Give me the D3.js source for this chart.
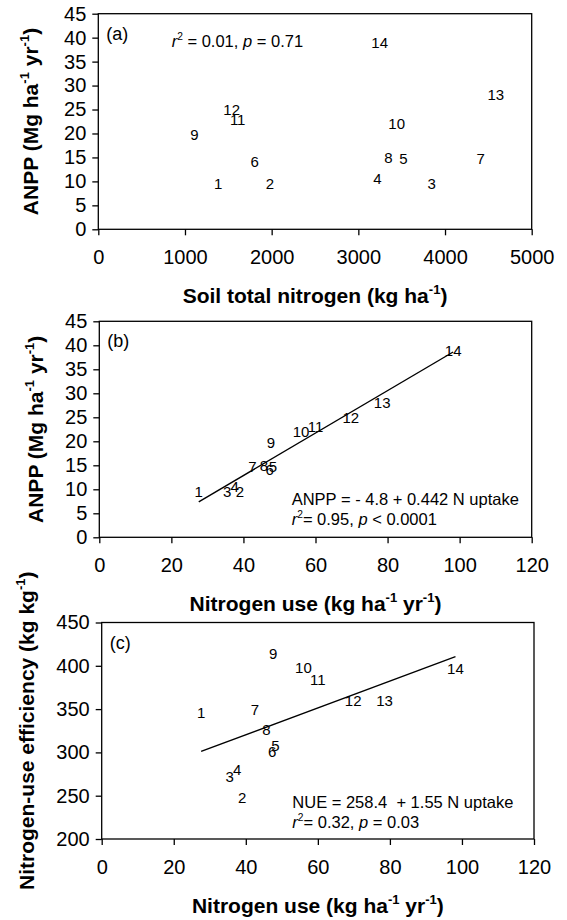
<!DOCTYPE html>
<html>
<head>
<meta charset="utf-8">
<script src="https://cdn.jsdelivr.net/npm/d3@7"></script>
<style>
  html, body { margin: 0; padding: 0; background: #fff; }
  svg { display: block; font-family: "Liberation Sans", Arial, sans-serif; }
  svg text { white-space: pre; }
</style>
</head>
<body>
<div id="chart"></div>
<script>
// ---------------- data ----------------
const sites = ["1","2","3","4","5","6","7","8","9","10","11","12","13","14"];
const soilN = [1384, 1981, 3846, 3219, 3519, 1804, 4412, 3346, 1108, 3442, 1608, 1539, 4585, 3246];
const anpp  = [9.6, 9.6, 9.5, 10.6, 14.8, 14.1, 14.8, 14.9, 19.7, 22.1, 23.0, 25.0, 28.1, 39.0];
const nUse  = [27.6, 39.0, 35.5, 37.6, 48.2, 47.3, 42.5, 45.7, 47.6, 56.0, 60.0, 69.8, 78.5, 98.2];
const nue   = [346, 248, 272, 280, 308, 301, 350, 326, 414, 398, 384, 360, 360, 397];

const soilTicks = [0, 1000, 2000, 3000, 4000, 5000];
const useTicks  = [0, 20, 40, 60, 80, 100, 120];
const anppTicks = [0, 5, 10, 15, 20, 25, 30, 35, 40, 45];
const nueTicks  = [200, 250, 300, 350, 400, 450];

const fitB = { intercept: -4.8, slope: 0.442 };
const fitC = { intercept: 258.4, slope: 1.55 };

// ---------------- drawing ----------------
const W = 567, H = 920;
const svg = d3.select("#chart").append("svg").attr("width", W).attr("height", H);

function rich(sel, parts, fs) {
  let shifted = false;
  parts.forEach(p => {
    const t = sel.append("tspan").text(p.t);
    if (p.sup) {
      t.attr("font-size", (fs * 0.62) + "px").attr("dy", -fs * 0.42);
      shifted = true;
    } else {
      if (shifted) { t.attr("dy", fs * 0.42); shifted = false; }
    }
    if (p.i) t.attr("font-style", "italic");
  });
  return sel;
}

function panel(cfg) {
  const g = svg.append("g");
  const x = d3.scaleLinear().domain(cfg.xDomain).range([cfg.left, cfg.right]);
  const y = d3.scaleLinear().domain(cfg.yDomain).range([cfg.bottom, cfg.top]);

  // axes
  const xa = g.append("g").attr("transform", `translate(0,${cfg.bottom})`)
    .call(d3.axisBottom(x).tickValues(cfg.xTicks).tickSize(6).tickSizeOuter(0).tickPadding(15).tickFormat(d3.format("d")));
  const ya = g.append("g").attr("transform", `translate(${cfg.left},0)`)
    .call(d3.axisLeft(y).tickValues(cfg.yTicks).tickSize(6).tickSizeOuter(0).tickPadding(6).tickFormat(d3.format("d")));
  [xa, ya].forEach(a => {
    a.select(".domain").remove();
    a.selectAll("line").attr("stroke", "#000").attr("stroke-width", 1.3);
    a.selectAll("text").attr("font-size", "20px").attr("fill", "#000")
      .attr("font-family", "Liberation Sans, Arial, sans-serif");
  });

  // frame
  g.append("rect").attr("x", cfg.left).attr("y", cfg.top)
    .attr("width", cfg.right - cfg.left).attr("height", cfg.bottom - cfg.top)
    .attr("fill", "none").attr("stroke", "#000").attr("stroke-width", 1.3);

  // regression line
  if (cfg.fit) {
    const x0 = d3.min(cfg.xs), x1 = d3.max(cfg.xs);
    g.append("line")
      .attr("x1", x(x0)).attr("y1", y(cfg.fit.intercept + cfg.fit.slope * x0))
      .attr("x2", x(x1)).attr("y2", y(cfg.fit.intercept + cfg.fit.slope * x1))
      .attr("stroke", "#000").attr("stroke-width", 1.4);
  }

  // data labels as markers
  g.selectAll("text.pt").data(sites).join("text").attr("class", "pt")
    .attr("x", (d, i) => x(cfg.xs[i])).attr("y", (d, i) => y(cfg.ys[i]))
    .attr("dy", "0.36em").attr("text-anchor", "middle")
    .attr("font-size", "15px").attr("fill", "#000").text(d => d);

  // panel letter
  g.append("text").attr("x", cfg.left + 8).attr("y", cfg.top + 26)
    .attr("font-size", "18px").text(cfg.letter);

  // stats
  cfg.stats.forEach(s => {
    rich(g.append("text").attr("x", s.x).attr("y", s.y).attr("font-size", "16.5px"), s.parts, 16.5);
  });

  // x title
  rich(g.append("text").attr("x", (cfg.left + cfg.right) / 2).attr("y", cfg.bottom + 74)
    .attr("text-anchor", "middle").attr("font-size", "21px").attr("font-weight", "bold"), cfg.xTitle, 21);
  // y title
  rich(g.append("text").attr("transform", `translate(${cfg.yTitleX},${(cfg.top + cfg.bottom) / 2}) rotate(-90)`)
    .attr("text-anchor", "middle").attr("font-size", "21px").attr("font-weight", "bold"), cfg.yTitle, 21);
}

const anppTitle = [{t: "ANPP (Mg ha"}, {t: "-1", sup: true}, {t: " yr"}, {t: "-1", sup: true}, {t: ")"}];
const useTitle = [{t: "Nitrogen use (kg ha"}, {t: "-1", sup: true}, {t: " yr"}, {t: "-1", sup: true}, {t: ")"}];

panel({
  left: 98.3, right: 531.7, top: 13.7, bottom: 229.3,
  xDomain: [0, 5000], yDomain: [0, 45], xTicks: soilTicks, yTicks: anppTicks,
  xs: soilN, ys: anpp, letter: "(a)",
  stats: [{x: 171.7, y: 46.5, parts: [{t: "r", i: true}, {t: "2", sup: true}, {t: " = 0.01, "}, {t: "p", i: true}, {t: " = 0.71"}]}],
  xTitle: [{t: "Soil total nitrogen (kg ha"}, {t: "-1", sup: true}, {t: ")"}],
  yTitle: anppTitle, yTitleX: 37.5
});

panel({
  left: 99.3, right: 531.7, top: 321.3, bottom: 537.3,
  xDomain: [0, 120], yDomain: [0, 45], xTicks: useTicks, yTicks: anppTicks,
  xs: nUse, ys: anpp, letter: "(b)", fit: fitB,
  stats: [
    {x: 291.7, y: 505, parts: [{t: "ANPP = - 4.8 + 0.442 N uptake"}]},
    {x: 291.7, y: 524.5, parts: [{t: "r", i: true}, {t: "2", sup: true}, {t: "= 0.95, "}, {t: "p", i: true}, {t: " < 0.0001"}]}
  ],
  xTitle: useTitle, yTitle: anppTitle, yTitleX: 43.3
});

panel({
  left: 101.7, right: 534, top: 622.5, bottom: 839,
  xDomain: [0, 120], yDomain: [200, 450], xTicks: useTicks, yTicks: nueTicks,
  xs: nUse, ys: nue, letter: "(c)", fit: fitC,
  stats: [
    {x: 292.3, y: 807.5, parts: [{t: "NUE = 258.4  + 1.55 N uptake"}]},
    {x: 292.3, y: 828, parts: [{t: "r", i: true}, {t: "2", sup: true}, {t: "= 0.32, "}, {t: "p", i: true}, {t: " = 0.03"}]}
  ],
  xTitle: useTitle,
  yTitle: [{t: "Nitrogen-use efficiency (kg kg"}, {t: "-1", sup: true}, {t: ")"}], yTitleX: 33.5
});
</script>
</body>
</html>
